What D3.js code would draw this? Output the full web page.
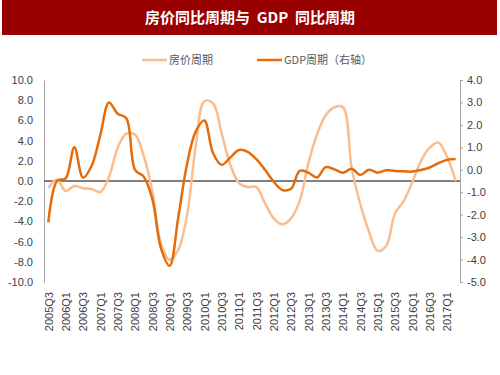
<!DOCTYPE html>
<html>
<head>
<meta charset="utf-8">
<script src="https://cdn.jsdelivr.net/npm/d3@7"></script>
<style>
    body { margin: 0; background: #fff; }
    svg { display: block; }
    .tick-label { font-family: "Liberation Sans Narrow", "Liberation Sans", sans-serif; font-size: 11px; fill: #404040; }
    .x-label { font-family: "Liberation Sans", sans-serif; font-size: 11px; fill: #404040; }
    .legend-text { font-family: "Noto Sans CJK SC", sans-serif; font-size: 11px; fill: #595959; }
</style>
</head>
<body>
<div id="chart"></div>
<script>
// quarters 2005Q3 - 2017Q2
const quarters = [
    "2005Q3", "2005Q4",
    "2006Q1", "2006Q2", "2006Q3", "2006Q4",
    "2007Q1", "2007Q2", "2007Q3", "2007Q4",
    "2008Q1", "2008Q2", "2008Q3", "2008Q4",
    "2009Q1", "2009Q2", "2009Q3", "2009Q4",
    "2010Q1", "2010Q2", "2010Q3", "2010Q4",
    "2011Q1", "2011Q2", "2011Q3", "2011Q4",
    "2012Q1", "2012Q2", "2012Q3", "2012Q4",
    "2013Q1", "2013Q2", "2013Q3", "2013Q4",
    "2014Q1", "2014Q2", "2014Q3", "2014Q4",
    "2015Q1", "2015Q2", "2015Q3", "2015Q4",
    "2016Q1", "2016Q2", "2016Q3", "2016Q4",
    "2017Q1", "2017Q2"
];

// 房价周期 (left axis)
const houseCycle = [
    -0.7, 0.15, -1.0, -0.5, -0.72, -0.8, -1.1, 0.4, 3.3, 4.7,
    4.6, 2.5, -1.0, -6.2, -7.8, -6.8, -3.4, 3.4, 7.9, 7.7,
    4.7, 1.6, -0.2, -0.6, -0.6, -2.2, -3.7, -4.3, -3.7, -2.0,
    1.75, 4.6, 6.5, 7.3, 7.3, 1.3, -2.3, -5.0, -6.9, -6.4,
    -3.2, -2.0, -0.1, 2.0, 3.3, 3.8, 2.4, 0.0
];

// GDP周期 (right axis)
const gdpCycle = [
    -2.34, -0.5, -0.38, 1.0, -0.35, 0.18, 1.55, 3.0, 2.5, 2.3,
    0.0, -0.3, -1.3, -3.5, -4.28, -2.1, 0.25, 1.7, 2.2, 0.75,
    0.22, 0.55, 0.88, 0.8, 0.47, 0.0, -0.53, -0.9, -0.85, -0.05,
    -0.13, -0.34, 0.12, 0.02, -0.13, 0.05, -0.23, 0.0, -0.13, -0.02,
    -0.05, -0.07, -0.08, -0.01, 0.1, 0.29, 0.44, 0.48
];

const leftTicks = [-10, -8, -6, -4, -2, 0, 2, 4, 6, 8, 10];
const rightTicks = [-5, -4, -3, -2, -1, 0, 1, 2, 3, 4];
const shownLabels = quarters.filter((q, i) => i % 2 === 0);

const titleText = "房价同比周期与  GDP  同比周期";
const legendItems = [
    { name: "房价周期", color: "#FBBD8E" },
    { name: "GDP周期（右轴）", color: "#E46C0A" }
];

const WIDTH = 500, HEIGHT = 375;
const PLOT = { LEFT: 44, RIGHT: 460, TOP: 80, BOTTOM: 282 };

const svg = d3.select("#chart").append("svg")
    .attr("width", WIDTH)
    .attr("height", HEIGHT);

// Title bar
svg.append("rect")
    .attr("x", 2).attr("y", 0)
    .attr("width", 495).attr("height", 35)
    .attr("fill", "#990000");

svg.append("text")
    .attr("x", 250).attr("y", 23)
    .attr("text-anchor", "middle")
    .style("font-family", "\"Noto Sans CJK SC\", sans-serif")
    .style("font-size", "15px")
    .style("font-weight", "bold")
    .style("fill", "#fff")
    .style("white-space", "pre")
    .text(titleText);

// Scales
const x = d3.scalePoint()
    .domain(quarters)
    .range([PLOT.LEFT, PLOT.RIGHT])
    .padding(0.5);

const yLeft = d3.scaleLinear().domain([-10, 10]).range([PLOT.BOTTOM, PLOT.TOP]);
const yRight = d3.scaleLinear().domain([-5, 4]).range([PLOT.BOTTOM, PLOT.TOP]);

const fmt = d => d.toFixed(1);

// Left axis
const leftAxis = svg.append("g")
    .attr("transform", `translate(${PLOT.LEFT},0)`)
    .call(d3.axisLeft(yLeft).tickValues(leftTicks).tickSize(0).tickPadding(11).tickFormat(fmt));
leftAxis.select(".domain").attr("stroke", "#A6A6A6");
leftAxis.selectAll("text").attr("class", "tick-label").attr("fill", null);

// Right axis
const rightAxis = svg.append("g")
    .attr("transform", `translate(${PLOT.RIGHT},0)`)
    .call(d3.axisRight(yRight).tickValues(rightTicks).tickSize(3).tickSizeOuter(3).tickPadding(4).tickFormat(fmt));
rightAxis.select(".domain").attr("stroke", "#A6A6A6");
rightAxis.selectAll("line").attr("stroke", "#A6A6A6");
rightAxis.selectAll("text").attr("class", "tick-label").attr("fill", null);

// X axis labels (every other quarter, rotated)
const xAxis = svg.append("g")
    .attr("transform", `translate(0,${PLOT.BOTTOM})`)
    .call(d3.axisBottom(x).tickValues(shownLabels).tickSize(0).tickPadding(0));
xAxis.select(".domain").remove();
xAxis.selectAll("text")
    .attr("class", "x-label")
    .attr("fill", null)
    .attr("transform", "rotate(-90)")
    .attr("text-anchor", "end")
    .attr("x", -10)
    .attr("y", 0)
    .attr("dy", "0.35em");

// Zero line
svg.append("line")
    .attr("x1", PLOT.LEFT).attr("x2", PLOT.RIGHT)
    .attr("y1", yLeft(0)).attr("y2", yLeft(0))
    .attr("stroke", "#808080")
    .attr("stroke-width", 2);

// Lines
const houseLine = d3.line()
    .x((d, i) => x(quarters[i]))
    .y(d => yLeft(d))
    .curve(d3.curveCatmullRom.alpha(0.5));

const gdpLine = d3.line()
    .x((d, i) => x(quarters[i]))
    .y(d => yRight(d))
    .curve(d3.curveCatmullRom.alpha(0.5));

svg.append("path")
    .datum(houseCycle)
    .attr("fill", "none")
    .attr("stroke", legendItems[0].color)
    .attr("stroke-width", 2.5)
    .attr("d", houseLine);

svg.append("path")
    .datum(gdpCycle)
    .attr("fill", "none")
    .attr("stroke", legendItems[1].color)
    .attr("stroke-width", 2.5)
    .attr("d", gdpLine);

// Legend
const legendX = [142, 257];
const legend = svg.selectAll(".legend")
    .data(legendItems)
    .enter().append("g")
    .attr("class", "legend")
    .attr("transform", (d, i) => `translate(${legendX[i]},60)`);

legend.append("line")
    .attr("x1", 0).attr("x2", 25)
    .attr("stroke", d => d.color)
    .attr("stroke-width", 2.5);

legend.append("text")
    .attr("class", "legend-text")
    .attr("x", 27)
    .attr("dy", "0.35em")
    .text(d => d.name);
</script>
</body>
</html>
